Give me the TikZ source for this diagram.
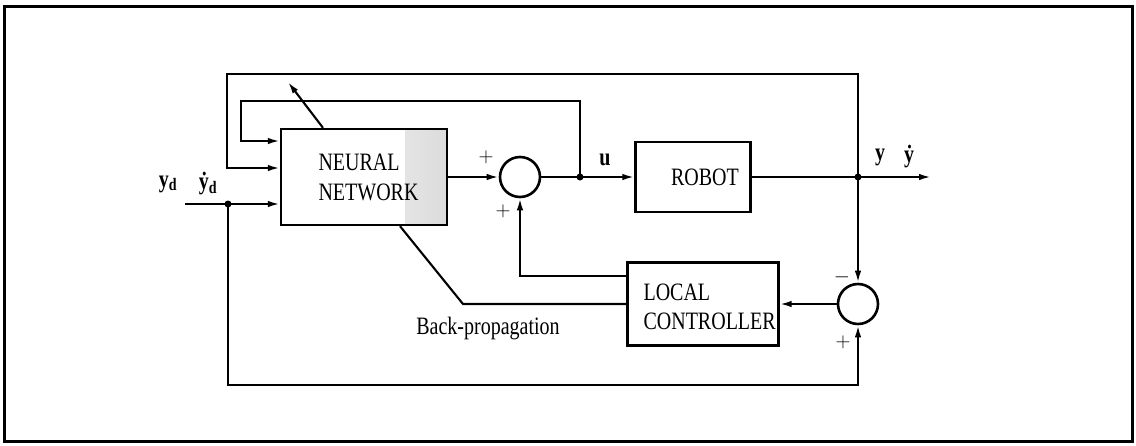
\documentclass[tikz,border=0pt]{standalone}
\usepackage{fontspec}
\setmainfont[FakeStretch=0.8]{Liberation Serif}
\usetikzlibrary{arrows.meta, calc}

\begin{document}
\begin{tikzpicture}[x=1pt, y=-1pt, >={Latex[length=12pt,width=6.5pt]},
    every node/.style={font=\fontsize{25}{27}\selectfont},
    line/.style={line width=2.1pt},
    block/.style={draw, line width=2.3pt, rectangle, inner sep=0pt},
    sum/.style={draw, line width=2.6pt, circle, minimum size=40pt, inner sep=0pt},
    sig/.style={font=\bfseries\fontsize{25}{27}\selectfont},
    sign/.style={font=\fontsize{20}{22}\selectfont}]
    \useasboundingbox (0,0) rectangle (1136,445);
    \draw[line width=3pt] (4,6) rectangle (1132,441);

    % Blocks
    \node[block, minimum width=166pt, minimum height=96pt,
        path picture={\shade[left color=white, right color=gray!28]
            ([xshift=-42pt]path picture bounding box.north east) rectangle (path picture bounding box.south east);}]
        (nn) at (364,177) {};
    \node[align=left, anchor=west, font=\fontsize{25}{30}\selectfont] (nntext) at (315,177) {NEURAL\\NETWORK};
    \node[block, minimum width=115pt, minimum height=70pt] (robot) at (693,177) {};
    \node (robottext) at (705,177) {ROBOT};
    \node[block, minimum width=151pt, minimum height=83pt] (lc) at (703,304) {};
    \node[align=left, anchor=west, font=\fontsize{25}{29}\selectfont] (lctext) at (640,307) {LOCAL\\CONTROLLER};
    \node[sum] (sum1) at (520,177) {};
    \node[sum] (sum2) at (858,304) {};

    % Branch points and corners
    \coordinate (in) at (185,204);
    \coordinate (jyd) at (228,204);
    \coordinate (ju) at (580,177);
    \coordinate (jy) at (858,177);
    \coordinate (out) at (931,177);
    \coordinate (loopA) at (227,74);
    \coordinate (loopB) at (241,101);
    \coordinate (loopC) at (228,385);
    \coordinate (bp) at (463,304);
    \coordinate (adj) at (288,82);

    % Forward path
    \draw[line,->] (in) -- ([yshift=-27pt]nn.west);
    \draw[line,->] (nn.east) -- (sum1.west);
    \draw[line] (sum1.east) -- (ju);
    \draw[line,->] (ju) -- (robot.west);
    \draw[line] (robot.east) -- (jy);
    \draw[line,->] (jy) -- (out);

    % Feedback loops
    \draw[line,->] (jy) |- (loopA) |- ([yshift=9pt]nn.west);
    \draw[line,->] (ju) |- (loopB) |- ([yshift=36pt]nn.west);
    \draw[line,->] (jy) -- (sum2.north);
    \draw[line,->] (jyd) -- (loopC) -| (sum2.south);
    \draw[line,->] (sum2.west) -- (lc.east);
    \draw[line,->] ([yshift=28pt]lc.west) -| (sum1.south);
    \draw[line] (lc.west) -- (bp) -- ([xshift=36pt]nn.south);
    \draw[line,->] ([xshift=-41pt]nn.north) -- (adj);

    % Junction dots
    \foreach \j in {jyd, ju, jy}
        \fill (\j) circle (3.5pt);

    % Labels
    \node[sig] (yd) at (168,184) {y\textsubscript{d}};
    \node[sig] (ydd) at (208,184) {\.y\textsubscript{d}};
    \node[sign] (p1) at (486,157) {$+$};
    \node[sign] (p2) at (503,211) {$+$};
    \node[sig] (u) at (605,160) {u};
    \node[sig] (y) at (880,157) {y};
    \node[sig] (ydot) at (909,157) {\.y};
    \node[sign] (m2) at (842,277) {$-$};
    \node[sign] (p3) at (843,342) {$+$};
    \node (bplabel) at (488,329) {Back-propagation};
\end{tikzpicture}
\end{document}
